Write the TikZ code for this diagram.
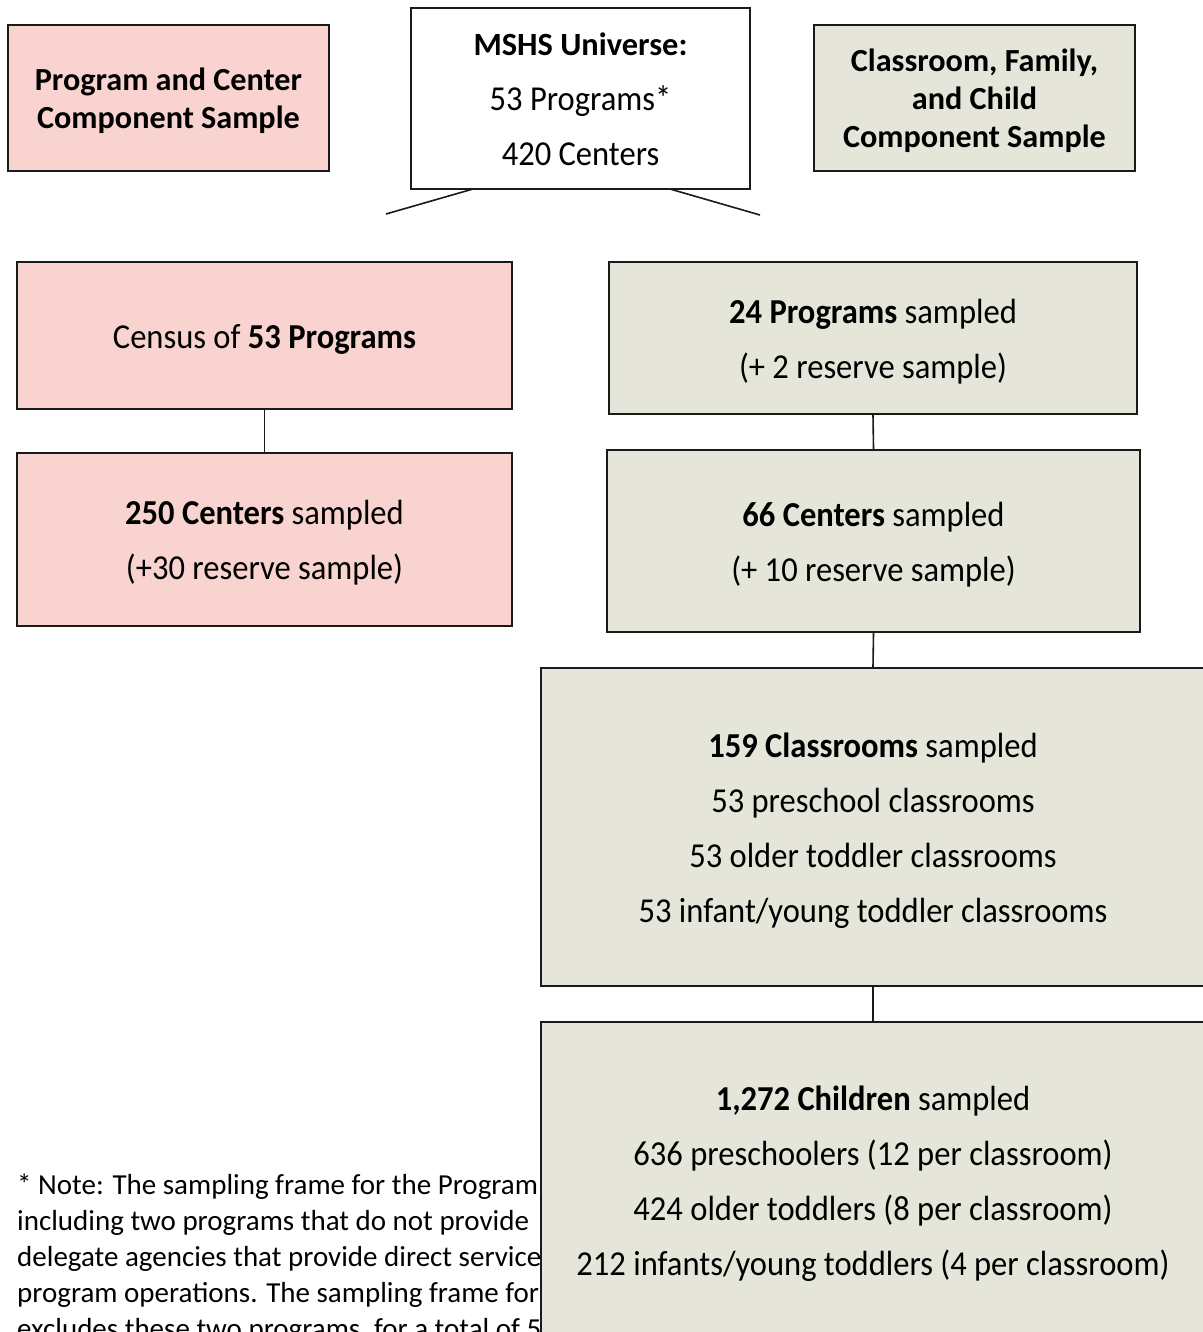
\documentclass[tikz,border=0pt]{standalone}
\usepackage{fontspec}
\setmainfont{Carlito}
\newfontfamily\condf[FakeStretch=0.93]{Carlito}
\definecolor{pinkfill}{HTML}{F8D3CF}
\definecolor{greenfill}{HTML}{E5E5D9}
\definecolor{edgecol}{HTML}{1A1A1A}
\newcommand\mtop{\rule{0pt}{34pt}}
\newcommand\mbot{\rule[-9pt]{0pt}{0pt}}
\newcommand\ttop{\rule{0pt}{31pt}}
\newcommand\tbot{\rule[-7.5pt]{0pt}{0pt}}
\begin{document}
\begin{tikzpicture}[x=1pt,y=-1pt,
  box/.style={draw=edgecol,line width=2.4pt,rectangle,inner sep=0pt,align=center},
  pinkbox/.style={box,fill=pinkfill},
  greenbox/.style={box,fill=greenfill},
  whitebox/.style={box,fill=white},
  titletext/.style={font=\fontsize{32.2}{38}\selectfont\bfseries},
  maintext/.style={font=\condf\fontsize{35}{55}\selectfont},
  link/.style={draw=edgecol,line width=1.6pt},
  notetext/.style={anchor=base west,inner sep=0pt,font=\fontsize{29}{36}\selectfont}]
\useasboundingbox (0,0) rectangle (1202,1332);
\fill[white] (0,0) rectangle (1202,1332);

% note text (partly covered by the children box)
\node[notetext] (n1) at (17,1194) {* Note: The sampling frame for the Program};
\node[notetext] (n2) at (17,1230) {including two programs that do not provide};
\node[notetext] (n3) at (17,1266) {delegate agencies that provide direct services};
\node[notetext] (n4) at (17,1302) {program operations. The sampling frame for};
\node[notetext] (n5) at (17,1338) {excludes these two programs, for a total of 53};

% top row
\node[pinkbox,titletext,minimum width=321pt,minimum height=146pt] (prog) at (168.5,98)
  {\ttop Program and Center\\Component Sample\tbot};
\node[whitebox,maintext,minimum width=339pt,minimum height=181pt] (univ) at (580.5,98.5)
  {\mtop{\rmfamily\bfseries\fontsize{32.4}{55}\selectfont MSHS Universe:}\\53 Programs*\\420 Centers\mbot};
\node[greenbox,titletext,minimum width=321pt,minimum height=146pt] (cfc) at (974.5,98)
  {\ttop Classroom, Family,\\and Child\\Component Sample\tbot};

\coordinate (ul) at (473,189);
\coordinate (ulend) at (386,214);
\coordinate (ur) at (670,189);
\coordinate (urend) at (760,215);
\draw[link] (ul) -- (ulend);
\draw[link] (ur) -- (urend);

% left column
\node[pinkbox,maintext,minimum width=495pt,minimum height=147pt] (census) at (264.5,335.5)
  {\mtop\mbot Census of \textbf{53 Programs}};
\node[pinkbox,maintext,minimum width=495pt,minimum height=173pt] (c250) at (264.5,539.5)
  {\mtop\textbf{250 Centers} sampled\\(+30 reserve sample)\mbot};

% right column
\node[greenbox,maintext,minimum width=528pt,minimum height=152pt] (p24) at (873,338)
  {\mtop\textbf{24 Programs} sampled\\(+ 2 reserve sample)\mbot};
\node[greenbox,maintext,minimum width=533pt,minimum height=182pt] (c66) at (873.5,541)
  {\mtop\textbf{66 Centers} sampled\\(+ 10 reserve sample)\mbot};
\node[greenbox,maintext,minimum width=664pt,minimum height=318pt] (class) at (873,827)
  {\mtop\textbf{159 Classrooms} sampled\\53 preschool classrooms\\53 older toddler classrooms\\53 infant/young toddler classrooms\mbot};
\node[greenbox,maintext,minimum width=664pt,minimum height=316pt] (child) at (873,1180)
  {\mtop\textbf{1,272 Children} sampled\\636 preschoolers (12 per classroom)\\424 older toddlers (8 per classroom)\\212 infants/young toddlers (4 per classroom)\mbot};

\draw[link] (census.south) -- (c250.north);
\draw[link] (p24.south) -- (c66.north);
\draw[link] (c66.south) -- (class.north);
\draw[link] (class.south) -- (child.north);
\end{tikzpicture}
\end{document}
